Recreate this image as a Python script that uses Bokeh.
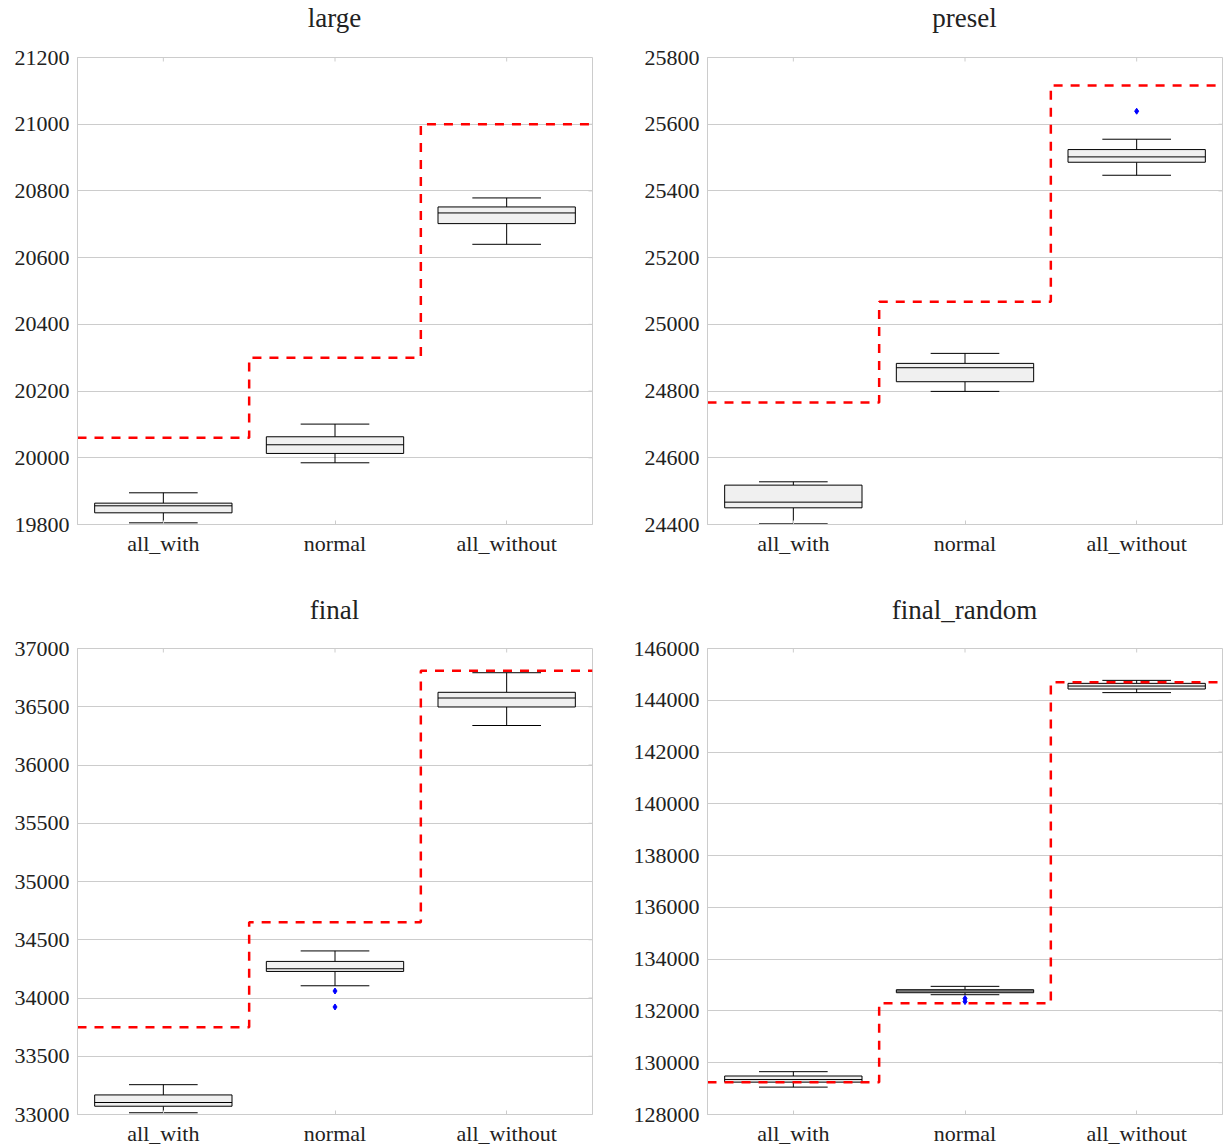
import math
from bokeh.plotting import figure
from bokeh.layouts import column, row
from bokeh.models import FixedTicker, Range1d, BasicTickFormatter, ColumnDataSource, Div
from bokeh.embed import file_html
from bokeh.resources import INLINE

categories = ["all_with", "normal", "all_without"]

# Box statistics per panel: lower whisker, Q1, median, Q3, upper whisker
large_low = [19805, 19985, 20640]
large_q1 = [19835, 20013, 20702]
large_med = [19856, 20039, 20734]
large_q3 = [19864, 20063, 20752]
large_high = [19895, 20101, 20779]
large_ref = [20060, 20300, 21000]
large_flier_cat = []
large_flier_val = []

presel_low = [24402, 24799, 25447]
presel_q1 = [24450, 24828, 25486]
presel_med = [24467, 24870, 25502]
presel_q3 = [24518, 24883, 25524]
presel_high = [24528, 24913, 25555]
presel_ref = [24766, 25068, 25716]
presel_flier_cat = ["all_without"]
presel_flier_val = [25639]

final_low = [33015, 34105, 36339]
final_q1 = [33071, 34228, 36498]
final_med = [33103, 34251, 36575]
final_q3 = [33168, 34314, 36624]
final_high = [33256, 34404, 36792]
final_ref = [33750, 34650, 36810]
final_flier_cat = ["normal", "normal"]
final_flier_val = [34060, 33923]

frand_low = [129058, 132627, 144296]
frand_q1 = [129250, 132704, 144435]
frand_med = [129350, 132770, 144550]
frand_q3 = [129487, 132820, 144654]
frand_high = [129654, 132950, 144769]
frand_ref = [129250, 132300, 144700]
frand_flier_cat = ["normal", "normal"]
frand_flier_val = [132480, 132360]

FONT = "Liberation Serif"
GRID = "#cccccc"


def heading(text, height, pad_top, left, right):
    return Div(text=text, width=515, height=height, margin=(0, right, 0, left),
               styles={"text-align": "center", "font-family": FONT, "font-size": "27px",
                       "color": "#222222", "line-height": "36px",
                       "padding-top": f"{pad_top}px", "box-sizing": "border-box"})


def panel(low, q1, med, q3, high, ref, fcat, fval, y0, y1, step,
          width, height, bl, br, bt, bb):
    pos = [i + 1 for i in range(len(categories))]
    x0, x1 = 0.5, len(categories) + 0.5
    p = figure(width=width, height=height, output_backend="svg", toolbar_location=None,
               x_range=Range1d(x0, x1), y_range=Range1d(y0, y1),
               min_border_left=bl, min_border_right=br, min_border_top=bt, min_border_bottom=bb)

    yticks = list(range(y0, y1 + 1, step))
    p.yaxis.ticker = FixedTicker(ticks=yticks)
    p.yaxis.formatter = BasicTickFormatter(use_scientific=False)
    p.xaxis.ticker = FixedTicker(ticks=pos)
    p.xaxis.major_label_overrides = {pp: c for pp, c in zip(pos, categories)}
    for ax in (p.xaxis[0], p.yaxis[0]):
        ax.major_label_text_font = FONT
        ax.major_label_text_font_size = "22px"
        ax.major_label_text_color = "#222222"
        ax.axis_line_color = GRID
        ax.major_tick_line_color = GRID
        ax.major_tick_in = 4
        ax.major_tick_out = 0
        ax.minor_tick_line_color = None
    p.yaxis.major_label_standoff = 8
    p.xaxis.major_label_standoff = 6

    # inward tick marks on the right and top edges
    p.ray(x=[x1] * len(yticks), y=yticks, length=4, length_units="screen",
          angle=math.pi, line_color=GRID, line_width=1)
    p.ray(x=pos, y=[y1] * len(pos), length=4, length_units="screen",
          angle=-math.pi / 2, line_color=GRID, line_width=1)

    p.xgrid.grid_line_color = None
    p.ygrid.grid_line_color = GRID
    p.ygrid.grid_line_width = 1
    p.outline_line_color = GRID
    p.background_fill_color = "white"

    src = ColumnDataSource(dict(x=pos, low=low, q1=q1, med=med, q3=q3, high=high,
                                cl=[x - 0.2 for x in pos], cr=[x + 0.2 for x in pos],
                                bl=[x - 0.4 for x in pos], br=[x + 0.4 for x in pos]))
    p.segment(x0="x", y0="low", x1="x", y1="q1", source=src, line_color="black", line_width=1)
    p.segment(x0="x", y0="q3", x1="x", y1="high", source=src, line_color="black", line_width=1)
    p.segment(x0="cl", y0="low", x1="cr", y1="low", source=src, line_color="black", line_width=1)
    p.segment(x0="cl", y0="high", x1="cr", y1="high", source=src, line_color="black", line_width=1)
    p.vbar(x="x", width=0.8, bottom="q1", top="q3", source=src,
           fill_color="#f0f0f0", line_color="black", line_width=1)
    p.segment(x0="bl", y0="med", x1="br", y1="med", source=src, line_color="black", line_width=1)

    if fcat:
        fx = [pos[categories.index(c)] for c in fcat]
        p.scatter(fx, fval, marker="diamond", size=6, fill_color="blue", line_color="blue")

    sx = [x - 0.5 for x in pos] + [pos[-1] + 0.5]
    sy = list(ref) + [ref[-1]]
    p.step(sx, sy, mode="after", line_color="red", line_width=2.5, line_dash="9 8")
    return p


f1 = panel(large_low, large_q1, large_med, large_q3, large_high, large_ref,
           large_flier_cat, large_flier_val, 19800, 21200, 200, 611, 529, 77, 19, 12, 50)
f2 = panel(presel_low, presel_q1, presel_med, presel_q3, presel_high, presel_ref,
           presel_flier_cat, presel_flier_val, 24400, 25800, 200, 612, 529, 96, 1, 12, 50)
f3 = panel(final_low, final_q1, final_med, final_q3, final_high, final_ref,
           final_flier_cat, final_flier_val, 33000, 37000, 500, 611, 512, 77, 19, 12, 32)
f4 = panel(frand_low, frand_q1, frand_med, frand_q3, frand_high, frand_ref,
           frand_flier_cat, frand_flier_val, 128000, 146000, 2000, 612, 512, 96, 1, 12, 32)

layout = column(
    row(heading("large", 45, 0, 77, 19), heading("presel", 45, 0, 96, 1), spacing=0),
    row(f1, f2, spacing=0),
    row(heading("final", 62, 18, 77, 19), heading("final_random", 62, 18, 96, 1), spacing=0),
    row(f3, f4, spacing=0),
    spacing=0,
)
open("out.html", "w").write(file_html(layout, INLINE))
